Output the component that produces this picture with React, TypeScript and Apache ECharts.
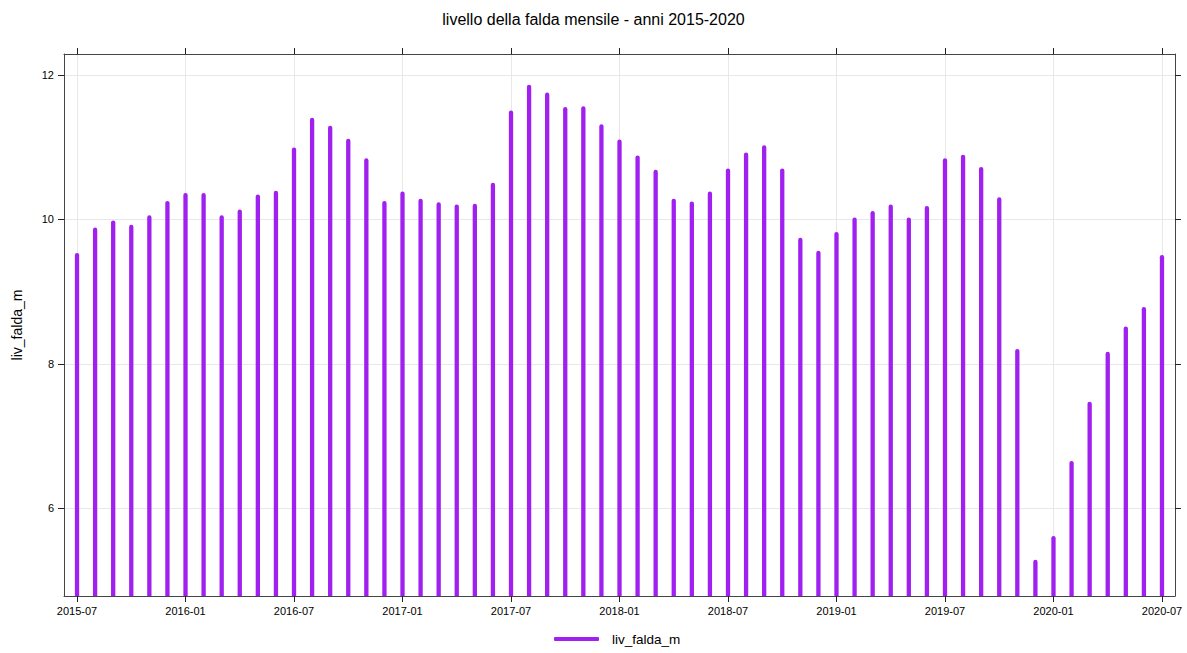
import React, { useEffect, useRef } from "react";
import * as echarts from "echarts";

const TITLE = "livello della falda mensile - anni 2015-2020";
const SERIES_NAME = "liv_falda_m";
const Y_NAME = "liv_falda_m";

// monthly values from 2015-07 (index 0) to 2020-07 (index 60)
const levels = [
  9.52, 9.87, 9.97, 9.91, 10.04, 10.24, 10.35, 10.35, 10.04, 10.12,
  10.33, 10.38, 10.98, 11.39, 11.28, 11.10, 10.83, 10.24, 10.37, 10.27,
  10.22, 10.19, 10.20, 10.49, 11.49, 11.85, 11.74, 11.54, 11.55, 11.30,
  11.09, 10.87, 10.67, 10.27, 10.23, 10.37, 10.69, 10.91, 11.01, 10.69,
  9.73, 9.55, 9.81, 10.01, 10.10, 10.19, 10.01, 10.17, 10.83, 10.88,
  10.71, 10.29, 8.19, 5.27, 5.60, 6.64, 7.46, 8.15, 8.50, 8.77, 9.49,
];

const xTickPositions = [0, 6, 12, 18, 24, 30, 36, 42, 48, 54, 60];
const xTickLabels = [
  "2015-07", "2016-01", "2016-07", "2017-01", "2017-07", "2018-01",
  "2018-07", "2019-01", "2019-07", "2020-01", "2020-07",
];
const yTicks = [6, 8, 10, 12];

const X_MIN = -0.72;
const X_MAX = 60.72;
const Y_MIN = 4.785;
const Y_MAX = 12.29;

const COLOR = "#A020F0";
const FONT = "Liberation Sans, Arial, sans-serif";
const AXIS_COLOR = "#444";

export default function App() {
  const ref = useRef<HTMLDivElement>(null);

  useEffect(() => {
    if (!ref.current) return;
    const chart = echarts.init(ref.current, undefined, { renderer: "svg" });
    const data = levels.map((v, i) => [i, v]);
    const labelMap: Record<string, string> = {};
    xTickPositions.forEach((p, i) => (labelMap[String(p)] = xTickLabels[i]));

    const baseX = {
      type: "value",
      min: X_MIN,
      max: X_MAX,
      axisLine: { show: true, onZero: false, lineStyle: { color: AXIS_COLOR, width: 1 } },
      axisTick: {
        show: true,
        length: 6,
        customValues: xTickPositions,
        lineStyle: { color: "#222" },
      },
    };
    const baseY = {
      type: "value",
      min: Y_MIN,
      max: Y_MAX,
      axisLine: { show: true, onZero: false, lineStyle: { color: AXIS_COLOR, width: 1 } },
      axisTick: {
        show: true,
        length: 6,
        customValues: yTicks,
        lineStyle: { color: "#222" },
      },
    };

    chart.setOption({
      animation: false,
      backgroundColor: "#fff",
      title: {
        text: TITLE,
        left: "center",
        top: 6,
        textStyle: { fontFamily: FONT, fontSize: 16, fontWeight: "normal", color: "#000" },
      },
      grid: { left: 64, right: 12, top: 54, bottom: 57, containLabel: false },
      legend: {
        bottom: 2,
        left: 549,
        data: [SERIES_NAME],
        itemWidth: 45,
        itemHeight: 4,
        icon: "roundRect",
        textStyle: { fontFamily: FONT, fontSize: 13.5, color: "#000", padding: [0, 0, 0, 8] },
      },
      xAxis: [
        {
          ...baseX,
          position: "bottom",
          axisLabel: {
            show: true,
            customValues: xTickPositions,
            formatter: (v: number) => labelMap[String(Math.round(v))] ?? "",
            fontFamily: FONT,
            fontSize: 11,
            color: "#000",
            margin: 9,
          },
          splitLine: { show: true, lineStyle: { color: "#e8e8e8", width: 1 } },
        },
        {
          ...baseX,
          position: "top",
          axisLabel: { show: false },
          splitLine: { show: false },
        },
      ],
      yAxis: [
        {
          ...baseY,
          position: "left",
          name: Y_NAME,
          nameLocation: "middle",
          nameGap: 40,
          nameTextStyle: { fontFamily: FONT, fontSize: 14, color: "#000" },
          axisLabel: {
            show: true,
            customValues: yTicks,
            fontFamily: FONT,
            fontSize: 11,
            color: "#000",
            margin: 10,
          },
          splitLine: { show: true, lineStyle: { color: "#e8e8e8", width: 1 } },
        },
        {
          ...baseY,
          position: "right",
          axisLabel: { show: false },
          splitLine: { show: false },
        },
      ],
      series: [
        {
          name: SERIES_NAME,
          type: "custom",
          xAxisIndex: 0,
          yAxisIndex: 0,
          clip: true,
          itemStyle: { color: COLOR },
          data,
          renderItem: (params: any, api: any) => {
            const x = api.value(0);
            const y = api.value(1);
            const top = api.coord([x, y]);
            const bot = api.coord([x, Y_MIN]);
            return {
              type: "line",
              shape: { x1: top[0], y1: top[1] + 1, x2: bot[0], y2: bot[1] + 3 },
              style: { stroke: COLOR, lineWidth: 4.3, lineCap: "round", fill: null },
            };
          },
        },
      ],
    });
    return () => chart.dispose();
  }, []);

  return (
    <div
      ref={ref}
      style={{ position: "fixed", left: 0, top: 0, width: 1187, height: 653, background: "#fff" }}
    />
  );
}
